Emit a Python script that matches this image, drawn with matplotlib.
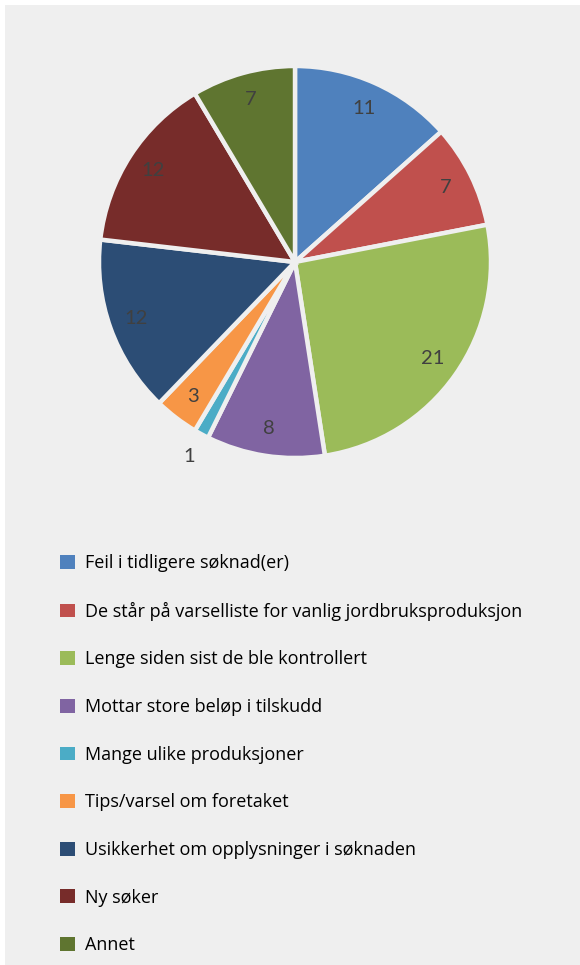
import matplotlib
matplotlib.use('Agg')
import matplotlib.pyplot as plt
from matplotlib.patches import Rectangle, Patch
import numpy as np

categories = [
    'Feil i tidligere søknad(er)',
    'De står på varselliste for vanlig jordbruksproduksjon',
    'Lenge siden sist de ble kontrollert',
    'Mottar store beløp i tilskudd',
    'Mange ulike produksjoner',
    'Tips/varsel om foretaket',
    'Usikkerhet om opplysninger i søknaden',
    'Ny søker',
    'Annet',
]
values = [11, 7, 21, 8, 1, 3, 12, 12, 7]
colors = ['#4f81bd', '#c0504d', '#9bbb59', '#8064a2', '#4bacc6',
          '#f79646', '#2c4d75', '#772c2a', '#5f7530']

bg = '#efefef'
W, H = 580, 965
fig = plt.figure(figsize=(W / 100, H / 100), dpi=100)
fig.patch.set_facecolor('white')
fig.patches.append(Rectangle((5 / W, -0.01), 1.1, 1.01 - 5 / H, transform=fig.transFigure,
                             facecolor=bg, edgecolor='none', zorder=-10))

# pie: centre (295, 262) px, radius 196 px
cx, cy, r = 295, 262, 196
ax = fig.add_axes([(cx - r) / W, 1 - (cy + r) / H, 2 * r / W, 2 * r / H])
ax.set_facecolor('none')

wedges, texts, autotexts = ax.pie(
    values, colors=colors, startangle=90, counterclock=False,
    autopct=lambda p: f'{p * sum(values) / 100:.0f}', pctdistance=0.86,
    wedgeprops=dict(edgecolor=bg, linewidth=3.2),
    textprops=dict(color='#404040', fontsize=14.5, family='Lato'))
ax.set_xlim(-1, 1)
ax.set_ylim(-1, 1)
ax.set_aspect('equal')

# tiny slice label goes outside
total = sum(values)
for i, t in enumerate(autotexts):
    if values[i] / total < 0.02:
        mid = (sum(values[:i]) + values[i] / 2) / total * 2 * np.pi
        t.set_position((1.13 * np.sin(mid), 1.13 * np.cos(mid)))

handles = [Patch(facecolor=c, edgecolor='none') for c in colors]
leg = fig.legend(handles, categories, loc='upper left',
                 bbox_to_anchor=(53 / W, 1 - 547 / H), frameon=False,
                 prop=dict(family='Open Sans', size=13.0),
                 handlelength=0.8, handleheight=0.8, handletextpad=0.55,
                 labelspacing=1.64, borderaxespad=0)
for t in leg.get_texts():
    t.set_color('#000000')

fig.savefig('out.png', dpi=100)
